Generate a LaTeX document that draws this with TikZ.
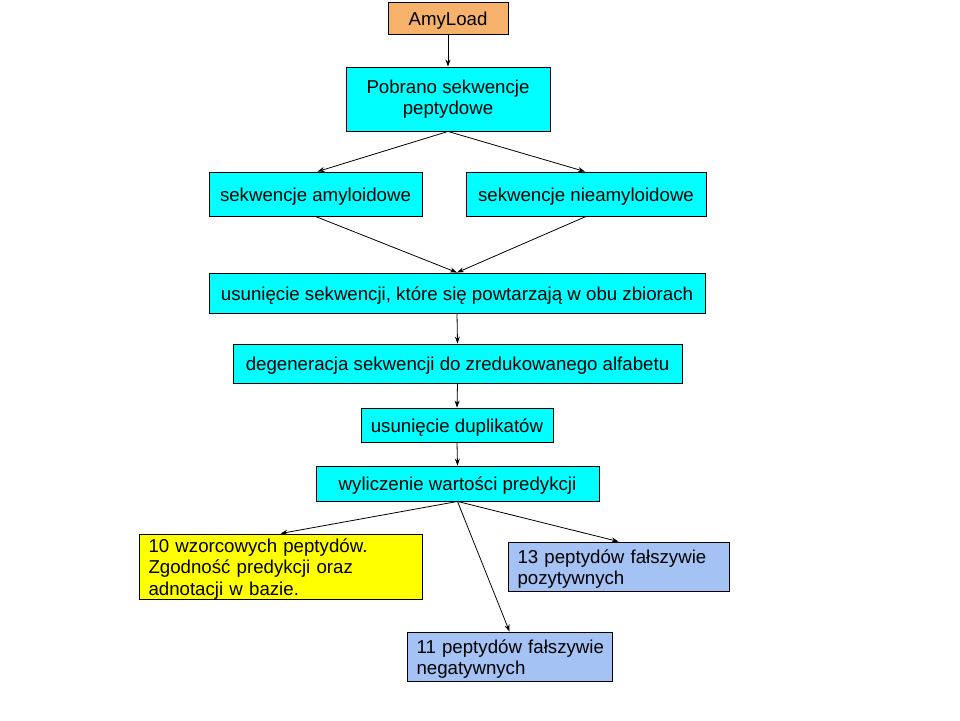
\documentclass[tikz,border=0pt]{standalone}
\usepackage{fontspec}
\setmainfont{Liberation Sans}
\usetikzlibrary{arrows.meta}
\definecolor{cyanbox}{HTML}{00FFFF}
\definecolor{orangebox}{HTML}{F6B26B}
\definecolor{yellowbox}{HTML}{FFFF00}
\definecolor{bluebox}{HTML}{A4C2F4}
\newcommand{\topstrut}{\noindent\rule{0pt}{18.6pt}}
\newcommand{\lboxsetup}{\hyphenpenalty=10000\relax\exhyphenpenalty=10000\relax\leftskip=1.5pt\relax}
\begin{document}
\begin{tikzpicture}[x=1pt,y=-1pt,
  box/.style={draw=black, line width=0.9pt, inner sep=0pt, align=center,
    font=\fontsize{18.67}{21.2}\selectfont, execute at begin node=\topstrut},
  lbox/.style={draw=black, line width=0.9pt, inner xsep=8pt, inner ysep=0pt, align=left,
    font=\fontsize{18.67}{21.3}\selectfont,
    execute at begin node=\lboxsetup\topstrut},
  conn/.style={line width=0.8pt, -{Stealth[length=7pt,width=5pt]}}]
\useasboundingbox[fill=white] (0,0) rectangle (960,720);
\node[box, fill=orangebox, minimum width=120pt, minimum height=32pt] (amy) at (448,18) {AmyLoad};
\node[box, fill=cyanbox, minimum width=204pt, minimum height=64pt] (pob) at (448,99) {Pobrano sekwencje\\peptydowe};
\node[box, fill=cyanbox, minimum width=213pt, minimum height=44pt] (am) at (315.5,194) {sekwencje amyloidowe};
\node[box, fill=cyanbox, minimum width=240pt, minimum height=44pt] (nie) at (586,194) {sekwencje nieamyloidowe};
\node[box, fill=cyanbox, minimum width=496pt, minimum height=40pt] (us) at (457,293) {usunięcie sekwencji, które się powtarzają w obu zbiorach};
\node[box, fill=cyanbox, minimum width=449pt, minimum height=39pt] (deg) at (457.5,363.5) {degeneracja sekwencji do zredukowanego alfabetu};
\node[box, fill=cyanbox, minimum width=192pt, minimum height=34pt] (dup) at (457,425) {usunięcie duplikatów};
\node[box, fill=cyanbox, minimum width=283pt, minimum height=35pt] (wyl) at (457.5,483.5) {wyliczenie wartości predykcji};
\node[lbox, fill=yellowbox, text width=267pt, minimum height=65pt] (yel) at (280.5,566.5) {10 wzorcowych peptydów.\\Zgodność predykcji oraz\\adnotacji w bazie.};
\node[lbox, fill=bluebox, text width=205pt, minimum height=49pt] (fp) at (618.5,566.5) {13 peptydów fałszywie\\pozytywnych};
\node[lbox, fill=bluebox, text width=189pt, minimum height=49pt] (fn) at (509.5,656.5) {11 peptydów fałszywie\\negatywnych};
\draw[conn] (amy.south) -- (pob.north);
\draw[conn] (pob.south) -- ([xshift=2pt]am.north);
\draw[conn] (pob.south) -- ([xshift=-1pt]nie.north);
\draw[conn] (am.south) -- (us.north);
\draw[conn] (nie.south) -- (us.north);
\draw[conn] (us.south) -- (deg.north);
\draw[conn] (deg.south) -- (dup.north);
\draw[conn] (dup.south) -- (wyl.north);
\draw[conn] (wyl.south) -- (yel.north);
\draw[conn] (wyl.south) -- (fp.north);
\draw[conn] (wyl.south) -- (fn.north);
\end{tikzpicture}
\end{document}
